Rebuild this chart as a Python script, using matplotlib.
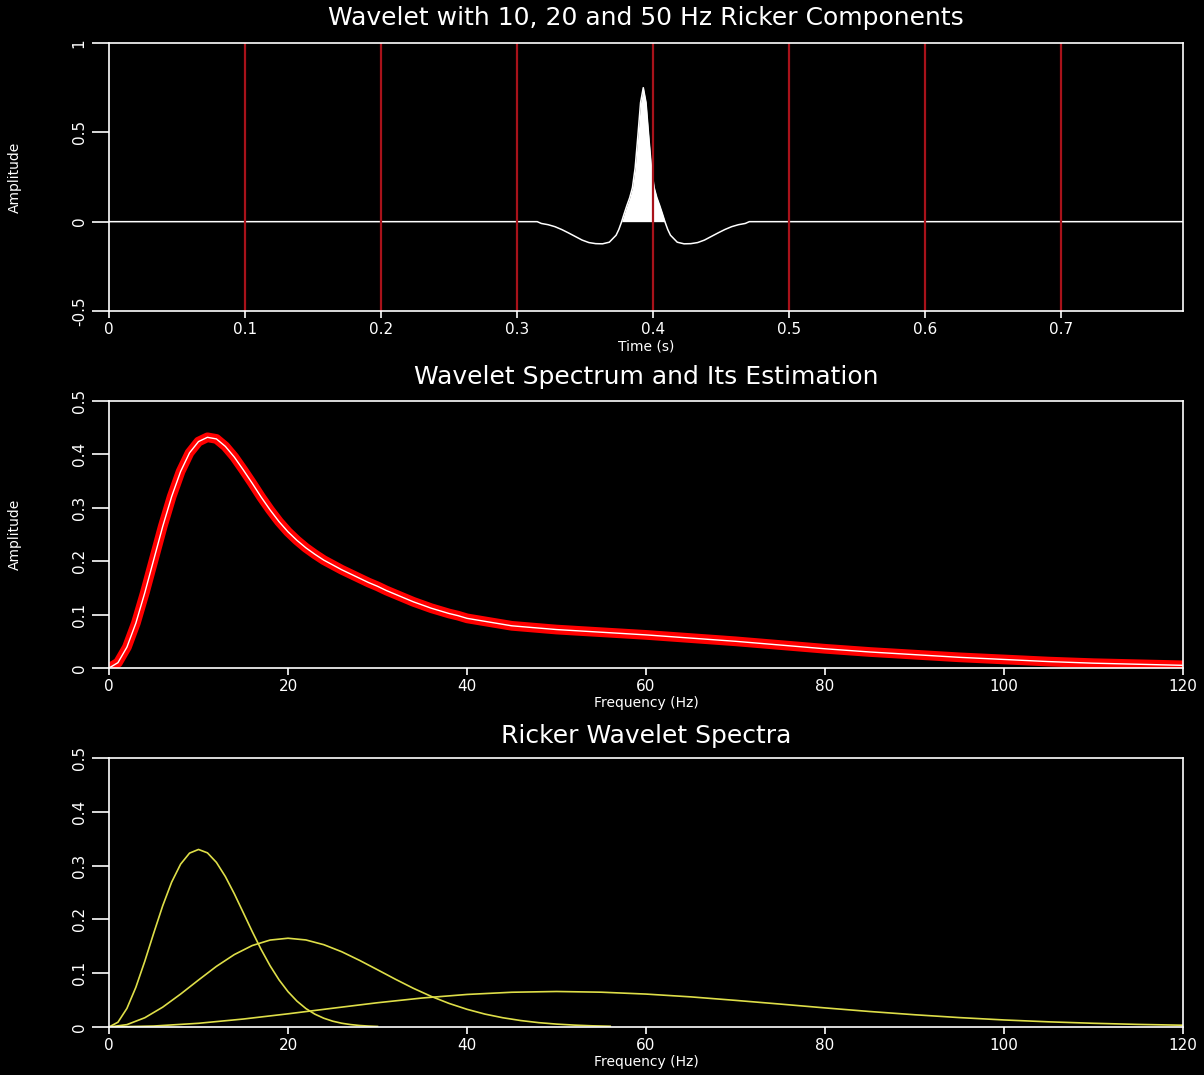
import matplotlib
matplotlib.use("Agg")
import matplotlib.pyplot as plt
import numpy as np

# wavelet (sum of 10, 20 and 50 Hz Ricker pulses) in the time domain
wavelet_t = [0.0, 0.315, 0.318, 0.323, 0.328, 0.333, 0.338, 0.343, 0.348, 0.353,
             0.358, 0.363, 0.368, 0.373, 0.375, 0.377, 0.379, 0.381, 0.383, 0.385,
             0.387, 0.389, 0.391, 0.393, 0.395, 0.397, 0.399, 0.401, 0.403, 0.405,
             0.407, 0.409, 0.411, 0.413, 0.418, 0.423, 0.428, 0.433, 0.438, 0.443,
             0.448, 0.453, 0.458, 0.463, 0.468, 0.471, 0.790]
wavelet_amp = [0.0, 0.0, -0.010, -0.017, -0.028, -0.044, -0.063, -0.083, -0.103, -0.117,
               -0.123, -0.124, -0.115, -0.076, -0.044, -0.002, 0.046, 0.092, 0.134, 0.190,
               0.300, 0.479, 0.667, 0.750, 0.667, 0.479, 0.300, 0.190, 0.134, 0.092,
               0.046, -0.002, -0.044, -0.076, -0.115, -0.124, -0.123, -0.117, -0.103, -0.083,
               -0.063, -0.044, -0.028, -0.017, -0.010, 0.0, 0.0]
marker_times = [0.1, 0.2, 0.3, 0.4, 0.5, 0.6, 0.7]

# amplitude spectrum of the wavelet
spec_f = list(range(0, 41)) + [45, 50, 55, 60, 65, 70, 75, 80, 85, 90, 95, 100, 105, 110, 115, 120]
spec_amp = [0.0, 0.010, 0.039, 0.084, 0.141, 0.203, 0.265, 0.321, 0.368, 0.403,
            0.424, 0.432, 0.429, 0.415, 0.395, 0.371, 0.346, 0.320, 0.296, 0.274,
            0.255, 0.239, 0.225, 0.213, 0.202, 0.193, 0.184, 0.176, 0.168, 0.160,
            0.153, 0.145, 0.138, 0.131, 0.124, 0.118, 0.112, 0.107, 0.102, 0.098,
            0.093, 0.079, 0.072, 0.067, 0.062, 0.056, 0.050, 0.043, 0.036, 0.030,
            0.025, 0.020, 0.016, 0.012, 0.009, 0.007, 0.005]

# individual Ricker spectra
r10_f = list(range(0, 31))
r10_amp = [0.0, 0.0089, 0.0345, 0.0738, 0.1223, 0.1747, 0.2253, 0.2693, 0.3027, 0.3232,
           0.3300, 0.3237, 0.3060, 0.2797, 0.2477, 0.2127, 0.1775, 0.1441, 0.1138, 0.0876,
           0.0657, 0.0481, 0.0343, 0.0239, 0.0163, 0.0108, 0.0070, 0.0045, 0.0028, 0.0017,
           0.0010]
r20_f = list(range(0, 57, 2))
r20_amp = [0.0, 0.0044, 0.0172, 0.0369, 0.0612, 0.0873, 0.1127, 0.1346, 0.1514, 0.1616,
           0.1650, 0.1618, 0.1530, 0.1399, 0.1238, 0.1064, 0.0888, 0.0720, 0.0569, 0.0438,
           0.0329, 0.0240, 0.0172, 0.0120, 0.0081, 0.0054, 0.0035, 0.0022, 0.0014]
r50_f = list(range(0, 121, 5))
r50_amp = [0.0, 0.0018, 0.0069, 0.0148, 0.0245, 0.0349, 0.0451, 0.0539, 0.0605, 0.0646,
           0.0660, 0.0647, 0.0612, 0.0560, 0.0495, 0.0426, 0.0355, 0.0288, 0.0228, 0.0175,
           0.0131, 0.0096, 0.0069, 0.0048, 0.0033]

time_ticks = [0, 0.1, 0.2, 0.3, 0.4, 0.5, 0.6, 0.7]
time_labels = ["0", "0.1", "0.2", "0.3", "0.4", "0.5", "0.6", "0.7"]
amp_ticks = [-0.5, 0, 0.5, 1]
amp_labels = ["-0.5", "0", "0.5", "1"]
freq_ticks = [0, 20, 40, 60, 80, 100, 120]
spec_ticks = [0, 0.1, 0.2, 0.3, 0.4, 0.5]
spec_labels = ["0", "0.1", "0.2", "0.3", "0.4", "0.5"]

W, H = 1204, 1075
fig = plt.figure(figsize=(W / 100, H / 100), dpi=100, facecolor="black")


def panel(top_px, bottom_px):
    ax = fig.add_axes([109 / W, 1 - bottom_px / H, (1183 - 109) / W, (bottom_px - top_px) / H])
    ax.set_facecolor("black")
    for s in ax.spines.values():
        s.set_color("white")
        s.set_linewidth(1.2)
    ax.tick_params(colors="white", labelsize=11, width=1.2)
    ax.tick_params(axis="x", length=5, pad=3)
    ax.tick_params(axis="y", length=12, pad=4, labelrotation=90)
    return ax


def title(text, y_px):
    fig.text(646 / W, 1 - y_px / H, text, color="white", fontsize=18,
             ha="center", va="center")


def xlabel(text, y_px):
    fig.text(646 / W, 1 - y_px / H, text, color="white", fontsize=10,
             ha="center", va="center")


# top: wavelet
ax1 = panel(43, 311)
ax1.set_xlim(0, 0.79)
ax1.set_ylim(-0.5, 1)
t = np.array(wavelet_t)
w = np.array(wavelet_amp)
ax1.fill_between(t, 0, w, where=w > 0, interpolate=True, color="white", lw=0)
ax1.plot(t, w, color="white", lw=1.1)
for mt in marker_times:
    ax1.axvline(mt, color="#a8121a", lw=1.6)
ax1.set_xticks(time_ticks)
ax1.set_xticklabels(time_labels)
ax1.set_yticks(amp_ticks)
ax1.set_yticklabels(amp_labels, rotation=90, va="center")
ax1.set_ylabel("Amplitude", color="white", fontsize=10)
ax1.yaxis.set_label_coords((22 - 109) / 1074, 0.5)
title("Wavelet with 10, 20 and 50 Hz Ricker Components", 18)
xlabel("Time (s)", 346)

# middle: spectrum and its estimate
ax2 = panel(401, 668)
ax2.set_xlim(0, 120)
ax2.set_ylim(0, 0.5)
ax2.plot(spec_f, spec_amp, color="#ff0000", lw=7, solid_capstyle="butt")
ax2.plot(spec_f, spec_amp, color="white", lw=1.0)
ax2.set_xticks(freq_ticks)
ax2.set_yticks(spec_ticks)
ax2.set_yticklabels(spec_labels, rotation=90, va="center")
ax2.set_ylabel("Amplitude", color="white", fontsize=10)
ax2.yaxis.set_label_coords((22 - 109) / 1074, 0.5)
title("Wavelet Spectrum and Its Estimation", 377)
xlabel("Frequency (Hz)", 703)

# bottom: Ricker components
ax3 = panel(758, 1027)
ax3.set_xlim(0, 120)
ax3.set_ylim(0, 0.5)
for f, a in [(r10_f, r10_amp), (r20_f, r20_amp), (r50_f, r50_amp)]:
    ax3.plot(f, a, color="#dede48", lw=1.2)
ax3.set_xticks(freq_ticks)
ax3.set_yticks(spec_ticks)
ax3.set_yticklabels(spec_labels, rotation=90, va="center")
title("Ricker Wavelet Spectra", 736)
xlabel("Frequency (Hz)", 1062)

fig.savefig("out.png", dpi=100, facecolor="black")
